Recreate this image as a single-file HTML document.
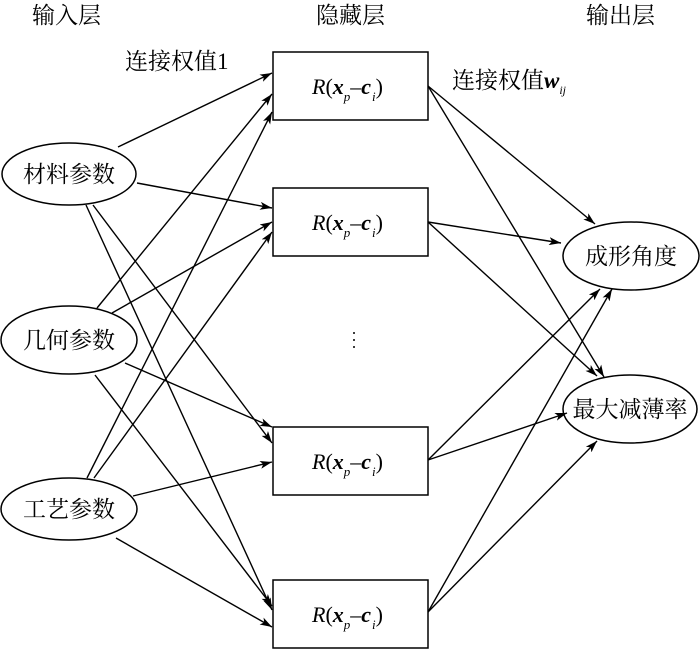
<!DOCTYPE html>
<html><head><meta charset="utf-8"><style>
html,body{margin:0;padding:0;background:#fff}
svg text{font-family:"Liberation Serif","Noto Serif CJK SC",serif;fill:#000}
</style></head><body>
<svg width="700" height="649" viewBox="0 0 700 649" xmlns="http://www.w3.org/2000/svg">
<defs><marker id="a" viewBox="0 0 12 8" refX="12" refY="4" markerWidth="12" markerHeight="8" markerUnits="userSpaceOnUse" orient="auto"><path d="M0,0 L12,4 L0,8 L3,4 z" fill="#000"/></marker></defs>
<g font-size="23">
<text x="32" y="23">输入层</text>
<text x="316" y="23">隐藏层</text>
<text x="586" y="23">输出层</text>
<text x="125" y="69">连接权值1</text>
<text x="452" y="88">连接权值<tspan font-weight="bold" font-style="italic">w</tspan><tspan font-size="12" font-style="italic" dy="6">ij</tspan></text>
</g>
<g fill="none" stroke="#000" stroke-width="1.5">
<rect x="273" y="52" width="155" height="68"/>
<rect x="273" y="188" width="155" height="68"/>
<rect x="273" y="427" width="155" height="68"/>
<rect x="273" y="580" width="155" height="68"/>
<ellipse cx="69" cy="174" rx="67" ry="31"/>
<ellipse cx="69" cy="340" rx="68" ry="34"/>
<ellipse cx="69" cy="509" rx="68" ry="31"/>
<ellipse cx="631" cy="256" rx="68" ry="34"/>
<ellipse cx="630" cy="409" rx="67" ry="34"/>
</g>
<g stroke="#000" stroke-width="1.4" marker-end="url(#a)">
<line x1="118" y1="147" x2="272" y2="73"/>
<line x1="137" y1="183" x2="272" y2="208"/>
<line x1="93" y1="205" x2="272" y2="443"/>
<line x1="86" y1="205" x2="272" y2="610"/>
<line x1="97" y1="308" x2="272" y2="94"/>
<line x1="112" y1="313" x2="272" y2="222"/>
<line x1="125" y1="363" x2="272" y2="427"/>
<line x1="95" y1="375" x2="272" y2="606"/>
<line x1="87" y1="478" x2="272" y2="112"/>
<line x1="94" y1="478" x2="272" y2="232"/>
<line x1="133" y1="496" x2="272" y2="462"/>
<line x1="116" y1="538" x2="272" y2="627"/>
<line x1="428" y1="86" x2="595" y2="224"/>
<line x1="428" y1="86" x2="604" y2="377"/>
<line x1="428" y1="222" x2="561" y2="243"/>
<line x1="428" y1="222" x2="597" y2="376"/>
<line x1="428" y1="460" x2="600" y2="289"/>
<line x1="428" y1="460" x2="567" y2="413"/>
<line x1="428" y1="612" x2="612" y2="289"/>
<line x1="428" y1="612" x2="597" y2="441"/>
</g>
<g font-size="23">
<text x="69" y="182" text-anchor="middle">材料参数</text>
<text x="69" y="348" text-anchor="middle">几何参数</text>
<text x="69" y="517" text-anchor="middle">工艺参数</text>
<text x="631" y="264" text-anchor="middle">成形角度</text>
<text x="630" y="417" text-anchor="middle">最大减薄率</text>
</g>
<g font-size="22">
<text x="312" y="94"><tspan font-style="italic">R</tspan>(<tspan font-weight="bold" font-style="italic">x</tspan><tspan font-size="13" font-style="italic" dy="7">p</tspan><tspan dy="-7">–</tspan><tspan font-weight="bold" font-style="italic">c</tspan><tspan font-size="13" font-style="italic" dy="7" dx="1">i</tspan><tspan dy="-7">)</tspan></text>
<text x="312" y="230"><tspan font-style="italic">R</tspan>(<tspan font-weight="bold" font-style="italic">x</tspan><tspan font-size="13" font-style="italic" dy="7">p</tspan><tspan dy="-7">–</tspan><tspan font-weight="bold" font-style="italic">c</tspan><tspan font-size="13" font-style="italic" dy="7" dx="1">i</tspan><tspan dy="-7">)</tspan></text>
<text x="312" y="469"><tspan font-style="italic">R</tspan>(<tspan font-weight="bold" font-style="italic">x</tspan><tspan font-size="13" font-style="italic" dy="7">p</tspan><tspan dy="-7">–</tspan><tspan font-weight="bold" font-style="italic">c</tspan><tspan font-size="13" font-style="italic" dy="7" dx="1">i</tspan><tspan dy="-7">)</tspan></text>
<text x="312" y="622"><tspan font-style="italic">R</tspan>(<tspan font-weight="bold" font-style="italic">x</tspan><tspan font-size="13" font-style="italic" dy="7">p</tspan><tspan dy="-7">–</tspan><tspan font-weight="bold" font-style="italic">c</tspan><tspan font-size="13" font-style="italic" dy="7" dx="1">i</tspan><tspan dy="-7">)</tspan></text>
</g>
<g fill="#000"><circle cx="354" cy="333" r="1"/><circle cx="354" cy="340" r="1"/><circle cx="354" cy="347" r="1"/></g>
</svg>
</body></html>
